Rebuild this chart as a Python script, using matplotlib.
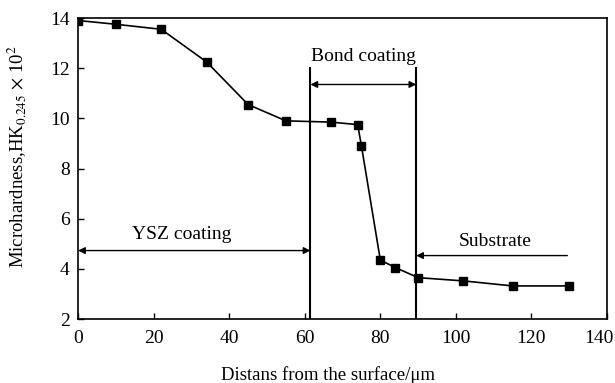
import matplotlib
matplotlib.use("Agg")
import matplotlib.pyplot as plt
import matplotlib.transforms as mtrans

# hardness profile
distance = [0, 10, 22, 34, 45, 55, 67, 74, 75, 80, 84, 90, 102, 115, 130]
hardness = [13.9, 13.75, 13.55, 12.25, 10.55, 9.9, 9.85, 9.75, 8.9, 4.35, 4.05, 3.65, 3.52, 3.32, 3.32]

ysz_end = 61.5      # YSZ / bond coating interface
bond_end = 89.5     # bond coating / substrate interface

plt.rcParams['font.family'] = ['Liberation Serif', 'DejaVu Serif']
plt.rcParams['mathtext.fontset'] = 'stix'

fig = plt.figure(figsize=(6.15, 3.83), dpi=100)
ax = fig.add_axes([0.127, 0.167, 0.86, 0.786])

ax.plot(distance, hardness, color='black', lw=1.2, marker='s', ms=5.8,
        markerfacecolor='black', markeredgecolor='black')

# interface lines
ax.plot([ysz_end, ysz_end], [2, 12.0], color='black', lw=1.5)
ax.plot([bond_end, bond_end], [2, 12.0], color='black', lw=1.5)

arrow = dict(arrowstyle='<|-|>', color='black', lw=1.0, mutation_scale=10,
             shrinkA=0, shrinkB=0)
ax.annotate('', xy=(0, 4.73), xytext=(ysz_end, 4.73), arrowprops=arrow)
ax.annotate('', xy=(ysz_end, 11.35), xytext=(bond_end, 11.35), arrowprops=arrow)
ax.annotate('', xy=(bond_end, 4.53), xytext=(129.5, 4.53),
            arrowprops=dict(arrowstyle='-|>', color='black', lw=1.0,
                            mutation_scale=10, shrinkA=0, shrinkB=0))

ax.text(27.5, 5.35, 'YSZ coating', ha='center', va='center', fontsize=14)
ax.text(75.5, 12.45, 'Bond coating', ha='center', va='center', fontsize=14)
ax.text(110.5, 5.08, 'Substrate', ha='center', va='center', fontsize=14)

ax.set_xlim(0, 140)
ax.set_ylim(2, 14)
ax.set_xticks(range(0, 141, 20))
ax.set_yticks(range(2, 15, 2))
ax.tick_params(direction='in', length=4, width=1, labelsize=14, pad=8)
ax.tick_params(axis='y', pad=6)
for s in ax.spines.values():
    s.set_linewidth(1.2)

# last x label sits at the figure edge, nudge it left a bit
last = ax.get_xticklabels()[-1]
last.set_transform(last.get_transform() + mtrans.ScaledTranslation(-8 / 100, 0, fig.dpi_scale_trans))

ax.set_xlabel('Distans from the surface/\u03bcm', fontsize=13.5)
ax.xaxis.set_label_coords(0.473, -0.155)
ax.set_ylabel(r'Microhardness,HK$_{0.245}$ $\times$ 10$^2$', fontsize=13.5)
ax.yaxis.set_label_coords(-0.092, 0.54)

fig.savefig('out.png', dpi=100)
